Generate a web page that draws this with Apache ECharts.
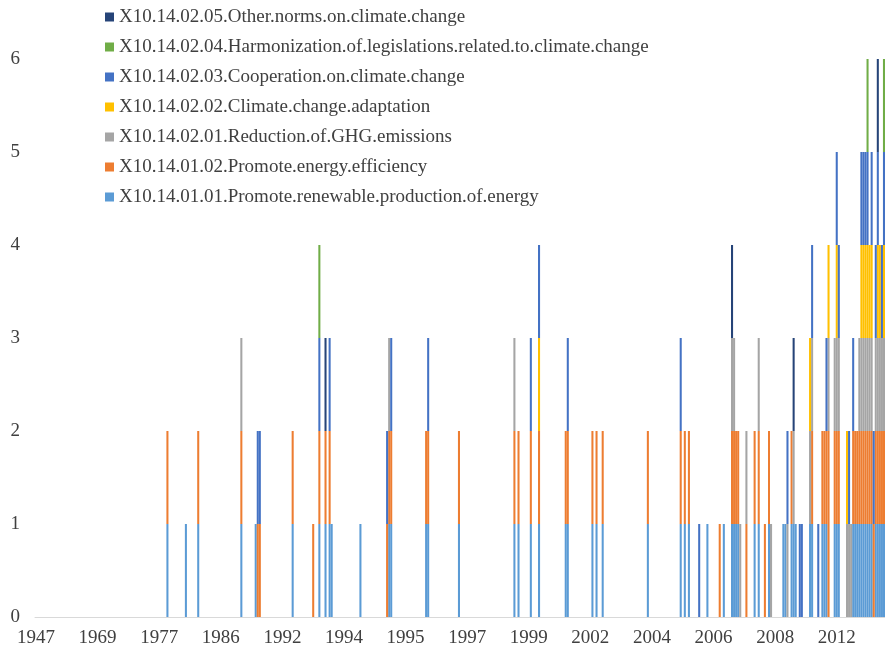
<!DOCTYPE html>
<html>
<head>
<meta charset="utf-8">
<script src="https://cdn.jsdelivr.net/npm/echarts@6/dist/echarts.min.js"></script>
<style>
html,body{margin:0;padding:0;background:#fff;}
#chart{width:885px;height:650px;}
</style>
</head>
<body>
<div id="chart"></div>
<script>
// Category axis: 414 dated entries, a year label every 30th entry
const categoryCount = 414;
const labelEvery = 30;
const tickYears = ['1947','1969','1977','1986','1992','1994','1995','1997','1999','2002','2004','2006','2008','2012'];

// Series names (stack order bottom -> top)
const seriesNames = [
  'X10.14.01.01.Promote.renewable.production.of.energy',
  'X10.14.01.02.Promote.energy.efficiency',
  'X10.14.02.01.Reduction.of.GHG.emissions',
  'X10.14.02.02.Climate.change.adaptation',
  'X10.14.02.03.Cooperation.on.climate.change',
  'X10.14.02.04.Harmonization.of.legislations.related.to.climate.change',
  'X10.14.02.05.Other.norms.on.climate.change'
];
const seriesColors = ['#5B9BD5','#ED7D31','#A5A5A5','#FFC000','#4472C4','#70AD47','#264478'];

// Category positions holding one law each (a repeated position = 2 laws)
const renewable = [64,73,79,100,107,125,138,141,143,144,158,172,173,190,191,206,233,235,241,245,258,259,271,273,276,298,314,316,318,327,335,339,340,341,342,350,352,357,364,365,368,369,370,377,378,383,384,385,389,390,391,398,399,400,401,402,403,404,405,406,407,409,410,411,412,413];
const efficiency = [64,79,100,108,109,125,135,138,141,143,171,172,173,190,191,206,233,235,241,245,258,259,271,273,276,298,314,316,318,333,339,340,341,342,346,350,352,355,357,368,378,383,384,385,386,386,389,390,391,398,399,400,401,402,403,404,405,406,407,408,409,410,411,412,413];
const ghg = [100,172,233,339,340,343,346,352,358,366,369,377,378,386,389,390,391,395,396,397,401,402,403,404,405,406,407,409,410,411,412,413];
const adaptation = [245,377,386,390,395,402,403,404,405,406,407,410,411,413];
const cooperation = [108,109,138,143,171,173,191,241,245,259,314,323,366,372,373,378,381,385,390,391,396,398,402,403,404,405,407,408,409,410,412,413];
const harmonization = [138,405,413];
const otherNorms = [141,339,369,410];

const positionLists = [renewable, efficiency, ghg, adaptation, cooperation, harmonization, otherNorms];

const categories = Array.from({length: categoryCount}, (_, i) => 'c' + i);
function toCounts(list) {
  const arr = new Array(categoryCount).fill(0);
  list.forEach(i => { arr[i] += 1; });
  return arr;
}

const FONT = 'Liberation Serif';
const chart = echarts.init(document.getElementById('chart'));
chart.setOption({
  animation: false,
  backgroundColor: '#ffffff',
  grid: {left: 35, right: 0, top: 59, bottom: 33, containLabel: false},
  legend: {
    orient: 'vertical',
    left: 100,
    top: 2,
    itemWidth: 9,
    itemHeight: 9,
    itemGap: 10,
    icon: 'rect',
    data: seriesNames.slice().reverse(),
    textStyle: {fontFamily: FONT, fontSize: 19, color: '#404040', lineHeight: 20}
  },
  xAxis: {
    type: 'category',
    data: categories,
    boundaryGap: true,
    axisLine: {lineStyle: {color: '#D9D9D9', width: 1}},
    axisTick: {show: false},
    axisLabel: {
      interval: labelEvery - 1,
      margin: 12,
      fontFamily: FONT,
      fontSize: 19,
      color: '#404040',
      formatter: (v, idx) => (idx % labelEvery === 0 ? (tickYears[idx / labelEvery] || '') : '')
    },
    splitLine: {show: false}
  },
  yAxis: {
    type: 'value',
    min: 0,
    max: 6,
    interval: 1,
    axisLine: {show: false},
    axisTick: {show: false},
    splitLine: {show: false},
    axisLabel: {fontFamily: FONT, fontSize: 19, color: '#404040', margin: 15}
  },
  series: seriesNames.map((name, k) => ({
    name: name,
    type: 'bar',
    stack: 'total',
    barCategoryGap: '0%',
    itemStyle: {color: seriesColors[k]},
    data: toCounts(positionLists[k])
  }))
});
</script>
</body>
</html>
